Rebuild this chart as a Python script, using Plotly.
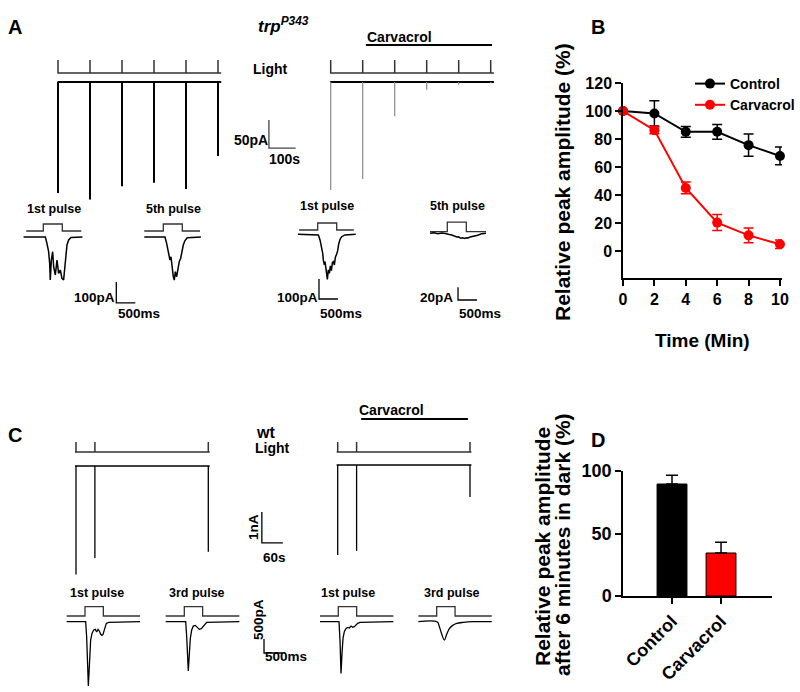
import plotly.graph_objects as go

# ---------------- data ----------------
# Panel B
B_time_min = [0, 2, 4, 6, 8, 10]
B_control = [100, 98.3, 85.2, 85.2, 75.7, 68]
B_control_err = [0, 9, 3.8, 5.3, 8, 6.3]
B_carvacrol = [100, 86.4, 45.2, 20.5, 11.4, 5]
B_carvacrol_err = [0, 2.5, 4.2, 5.7, 5.3, 3]

# Panel D
D_categories = ["Control", "Carvacrol"]
D_values = [89.6, 34.4]
D_err = [7, 8.5]

# Panel A long recordings (trp P343)
A_pulse_times_s = [0, 120, 240, 360, 480, 600]
A_ctrl_peaks_pA = [198, 210, 186, 180, 191, 132]
A_carv_peaks_pA = [193, 173, 61, 14, 5, 2]
A_record_span_s = [-2, 612]
A_carv_span_s = [132, 605]

# Panel A inset responses (ms, pA)
A_L1_t = [-520, 53, 96, 140, 167, 184, 211, 246, 272, 316, 360, 404, 447, 491, 535, 561, 588, 623, 667, 728, 1030]
A_L1_I = [0, 0, -30, -70, -125, -205, -110, -70, -141, -181, -110, -173, -157, -197, -205, -157, -94, -38, -14, -2, 0]
A_L5_t = [-500, 44, 88, 132, 175, 202, 228, 263, 289, 316, 351, 386, 421, 456, 491, 526, 570, 632, 990]
A_L5_I = [0, 0, -30, -70, -110, -94, -149, -189, -205, -165, -189, -141, -117, -102, -70, -38, -17, -4, 0]
A_R1_t = [-520, 18, 61, 105, 132, 148, 175, 193, 219, 237, 254, 280, 307, 333, 360, 386, 412, 439, 465, 500, 526, 553, 588, 632, 719, 1000]
A_R1_I = [0, -3, -28, -62, -95, -128, -153, -137, -178, -212, -225, -178, -195, -158, -182, -142, -137, -153, -115, -98, -82, -48, -25, -12, -3, 0]
A_R5_t = [-455, -350, -250, -150, -50, 0, 50, 100, 150, 200, 250, 300, 350, 400, 450, 500, 550, 600, 700, 800, 900, 1018]
A_R5_I = [0, 0.8, -0.6, 0.5, -0.4, -0.5, -1.8, -2.2, -3.6, -4.0, -5.9, -5.6, -7.8, -7.2, -8.3, -7.1, -7.4, -5.7, -4.9, -3.1, -0.8, 0]

# Panel C long recordings (wild type)
C_pulse_times_s = [0, 54, 378]
C_ctrl_peaks_nA = [3.5, 2.97, 2.77]
C_carv_peaks_nA = [2.9, 2.77, 1.03]
C_record_span_s = [-3, 382]
C_carv_span_s = [67, 372]

# Panel C inset responses (ms, pA)
C_L1_t = [-500, 18, 45, 64, 91, 109, 127, 154, 191, 236, 282, 318, 354, 391, 427, 463, 490, 518, 545, 581, 645, 1500]
C_L1_I = [0, 0, -536, -1250, -2298, -1845, -1131, -655, -417, -298, -274, -369, -274, -333, -452, -488, -452, -298, -155, -60, -24, 0]
C_L3_t = [-507, 38, 65, 83, 109, 136, 164, 201, 245, 300, 354, 409, 463, 509, 555, 610, 1500]
C_L3_I = [0, 0, -536, -1012, -1762, -1190, -595, -298, -155, -131, -214, -274, -250, -179, -83, -24, 0]
C_R1_t = [-499, 19, 46, 74, 101, 128, 164, 210, 255, 300, 346, 392, 437, 482, 528, 591, 1500]
C_R1_I = [0, 0, -655, -1845, -1131, -595, -357, -238, -202, -226, -155, -202, -179, -119, -60, -24, 0]
C_R3_t = [-500, 18, 73, 136, 209, 272, 345, 436, 545, 726, 1000, 1500]
C_R3_I = [0, -12, -179, -440, -655, -452, -250, -131, -60, -24, 0, 0]

LIGHT_PULSE_MS = 500

# ---------------- figure ----------------
W, H = 800, 692
FONT = "Liberation Sans, Arial, sans-serif"
fig = go.Figure()
axes_layout = {}
_n = [2]


def make_axes(box, origin, scale):
    """box: (left, top, right, bottom) px; origin: px of data (0,0); scale: px per unit."""
    _n[0] += 1
    n = _n[0]
    L, T, R, B = box
    ox, oy = origin
    sx, sy = scale
    axes_layout[f"xaxis{n}"] = dict(domain=[L / W, R / W], range=[(L - ox) / sx, (R - ox) / sx],
                                    visible=False, anchor=f"y{n}", fixedrange=True, automargin=False)
    axes_layout[f"yaxis{n}"] = dict(domain=[1 - B / H, 1 - T / H], range=[(oy - B) / sy, (oy - T) / sy],
                                    visible=False, anchor=f"x{n}", fixedrange=True, automargin=False)
    return (f"x{n}", f"y{n}", sy)


def line(ax, x, y, color="black", width=1.5, shape="linear"):
    fig.add_trace(go.Scatter(x=x, y=y, xaxis=ax[0], yaxis=ax[1], mode="lines",
                             line=dict(color=color, width=width, shape=shape),
                             showlegend=False, hoverinfo="skip", cliponaxis=False))


def text(px, py, s, size, angle=0, xanchor="center"):
    fig.add_annotation(x=px / W, y=1 - py / H, xref="paper", yref="paper", text=s, showarrow=False,
                       font=dict(size=size, family=FONT, color="black"), textangle=angle,
                       xanchor=xanchor, yanchor="middle")


def long_trace(ax, times, peaks, span, stim_off_px, stim_h_px, spike_color, spike_width, base_width):
    sy = ax[2]
    line(ax, span, [0, 0], "black", base_width)
    xs, ys = [], []
    for t, a in zip(times, peaks):
        xs += [t, t, None]
        ys += [0, -a, None]
    line(ax, xs, ys, spike_color, spike_width)
    s = stim_off_px / sy
    h = stim_h_px / sy
    lx, ly = [span[0]], [s]
    for t in times:
        lx += [t, t, t]
        ly += [s, s + h, s]
    lx.append(span[1])
    ly.append(s)
    line(ax, lx, ly, "#333333", 1.5)


def inset(ax, t, I, stim_span, stim_off_px, stim_h_px, width=1.5, shape="linear"):
    sy = ax[2]
    s = stim_off_px / sy
    h = stim_h_px / sy
    line(ax, [stim_span[0], 0, 0, LIGHT_PULSE_MS, LIGHT_PULSE_MS, stim_span[1]],
         [s, s, s + h, s + h, s, s], "#333333", 1.3)
    line(ax, t, I, "black", width, shape)


def scalebar(ax, x0, y0, dx, dy, color="#444444", width=1.3):
    line(ax, [x0, x0, x0 + dx], [y0, y0 - dy, y0 - dy], color, width)


# ---- Panel A long traces ----
sA = (32 / 120, 0.56)
axAL = make_axes((20, 40, 305, 215), (58, 82), sA)
long_trace(axAL, A_pulse_times_s, A_ctrl_peaks_pA, A_record_span_s, 9, 13, "black", 2, 2.2)
scalebar(axAL, 791, -68, 100, 50)

axAR = make_axes((305, 30, 505, 215), (330.7, 82), sA)
long_trace(axAR, A_pulse_times_s, A_carv_peaks_pA, A_record_span_s, 9, 13, "#8a8a8a", 1.2, 2)
line(axAR, A_carv_span_s, [37 / sA[1]] * 2, "black", 2)

# ---- Panel A insets ----
axA1 = make_axes((15, 212, 150, 320), (43.3, 237), (0.038, 0.21))
inset(axA1, A_L1_t, A_L1_I, [-450, 1000], 6, 7)
scalebar(axA1, 1921, -214, 500, 100, "black", 1.3)
axA5 = make_axes((130, 212, 215, 300), (163.3, 237), (0.038, 0.21))
inset(axA5, A_L5_t, A_L5_I, [-500, 966], 6, 7)
axA1r = make_axes((288, 212, 362, 320), (317.7, 234.3), (0.038, 0.2))
inset(axA1r, A_R1_t, A_R1_I, [-490, 950], 4.3, 7)
scalebar(axA1r, 34, -223.5, 500, 100, "black", 1.3)
axA5r = make_axes((420, 212, 500, 320), (447.3, 233.3), (0.038, 0.633))
inset(axA5r, A_R5_t, A_R5_I, [-455, 1018], 1.7, 9.4)
scalebar(axA5r, 282, -85.4, 500, 20, "black", 1.3)

# ---- Panel C long traces ----
sC = (0.35, 31)
axCL = make_axes((60, 430, 300, 590), (76, 466), sC)
long_trace(axCL, C_pulse_times_s, C_ctrl_peaks_nA, C_record_span_s, 14, 10, "black", 1.3, 1.6)
scalebar(axCL, 531, -1.48, 60, 1, "black", 1.3)
axCR = make_axes((310, 405, 500, 590), (337.7, 465), sC)
long_trace(axCR, C_pulse_times_s, C_carv_peaks_nA, C_record_span_s, 13, 10, "black", 1.3, 1.6)
line(axCR, C_carv_span_s, [46 / sC[1]] * 2, "black", 2)

# ---- Panel C insets ----
sCi = (0.0367, 0.028)
axC1 = make_axes((60, 600, 150, 692), (85, 621.7), sCi)
inset(axC1, C_L1_t, C_L1_I, [-500, 1500], 5.7, 9.3, 1.3)
axC3 = make_axes((155, 600, 300, 692), (184.3, 621.7), sCi)
inset(axC3, C_L3_t, C_L3_I, [-507, 1500], 5.7, 9.3, 1.3)
scalebar(axC3, 2172, -618, 500, 500, "black", 1.3)
axC1r = make_axes((310, 600, 400, 692), (338.3, 621.7), sCi)
inset(axC1r, C_R1_t, C_R1_I, [-499, 1500], 5.7, 9.3, 1.3)
axC3r = make_axes((410, 600, 500, 692), (436.7, 621.7), sCi)
inset(axC3r, C_R3_t, C_R3_I, [-500, 1500], 5.7, 9.3, 1.3, "spline")

# ---- Panel B ----
for name, vals, err, col in [("Control", B_control, B_control_err, "black"),
                             ("Carvacrol", B_carvacrol, B_carvacrol_err, "#ff0000")]:
    fig.add_trace(go.Scatter(x=B_time_min, y=vals, name=name, mode="lines+markers",
                             line=dict(color=col, width=2), marker=dict(size=10, color=col),
                             error_y=dict(type="data", array=err, color=col, thickness=1.5, width=5),
                             cliponaxis=False, xaxis="x", yaxis="y"))

# ---- Panel D ----
D_x = list(range(1, len(D_categories) + 1))
fig.add_trace(go.Bar(x=D_x, y=D_values, width=0.61, xaxis="x2", yaxis="y2", showlegend=False,
                     marker=dict(color=["black", "#ff0000"], line=dict(color="black", width=1)),
                     error_y=dict(type="data", array=D_err, arrayminus=[0, 0], symmetric=False,
                                  color="black", thickness=1.5, width=6),
                     cliponaxis=False))


def axis_style(size):
    return dict(showline=True, linecolor="black", linewidth=1.5, ticks="outside", ticklen=6,
                tickwidth=1.5, tickcolor="black", showgrid=False, zeroline=False,
                tickfont=dict(size=size, family=FONT, color="black", weight="bold"),
                fixedrange=True, automargin=False)


fig.update_layout(
    template="none",
    width=W, height=H, margin=dict(l=0, r=0, t=0, b=0, pad=0, autoexpand=False),
    paper_bgcolor="white", plot_bgcolor="rgba(0,0,0,0)",
    font=dict(family=FONT, color="black"),
    xaxis=dict(domain=[623 / W, 782 / W], range=[0, 10.13], tickvals=B_time_min, anchor="y", **axis_style(16)),
    yaxis=dict(domain=[1 - 278 / H, 1 - 83 / H], range=[-19, 120], tickvals=[0, 20, 40, 60, 80, 100, 120],
               anchor="x", **axis_style(16)),
    xaxis2=dict(domain=[623 / W, 772 / W], range=[0, 3.04], tickvals=D_x, ticktext=D_categories,
                tickangle=-45, anchor="y2", **axis_style(18)),
    yaxis2=dict(domain=[1 - 596 / H, 1 - 471 / H], range=[0, 100], tickvals=[0, 50, 100],
                anchor="x2", **axis_style(18)),
    legend=dict(x=690 / W, y=1 - 68 / H, xanchor="left", yanchor="top", bgcolor="rgba(0,0,0,0)",
                font=dict(size=14, family=FONT, color="black", weight="bold"), itemwidth=30,
                tracegroupgap=0),
    showlegend=True,
    **axes_layout,
)

# ---- text ----
text(15, 27, "<b>A</b>", 20)
text(598, 27, "<b>B</b>", 20)
text(15, 435, "<b>C</b>", 20)
text(598, 440, "<b>D</b>", 20)

text(283, 25, "<b><i>trp<sup>P343</sup></i></b>", 17)
text(399, 37, "<b>Carvacrol</b>", 14)
text(270, 69, "<b>Light</b>", 14)
text(251, 140, "<b>50pA</b>", 14)
text(284, 159, "<b>100s</b>", 14)

text(54, 209, "<b>1st pulse</b>", 12.5)
text(173, 209, "<b>5th pulse</b>", 12.5)
text(327, 206, "<b>1st pulse</b>", 12.5)
text(457, 206, "<b>5th pulse</b>", 12.5)
text(94, 297, "<b>100pA</b>", 13.5)
text(139, 313, "<b>500ms</b>", 13.5)
text(297, 297, "<b>100pA</b>", 13.5)
text(341, 313, "<b>500ms</b>", 13.5)
text(436, 297, "<b>20pA</b>", 13.5)
text(480, 313, "<b>500ms</b>", 13.5)

text(265, 432, "<b>wt</b>", 16)
text(272, 448, "<b>Light</b>", 14)
text(391, 410, "<b>Carvacrol</b>", 14)
text(253, 527, "<b>1nA</b>", 13.5, angle=-90)
text(274, 557, "<b>60s</b>", 13.5)
text(97, 593, "<b>1st pulse</b>", 12.5)
text(197, 593, "<b>3rd pulse</b>", 12.5)
text(348, 593, "<b>1st pulse</b>", 12.5)
text(452, 593, "<b>3rd pulse</b>", 12.5)
text(258, 620, "<b>500pA</b>", 13.5, angle=-90)
text(286, 656, "<b>500ms</b>", 13.5)

text(562, 182, "<b>Relative peak amplitude (%)</b>", 21, angle=-90)
text(702, 340, "<b>Time (Min)</b>", 19)
text(542, 547, "<b>Relative peak amplitude</b>", 21, angle=-90)
text(562, 545, "<b>after 6 minutes in dark (%)</b>", 21, angle=-90)

fig.write_html("out.html", config={"displayModeBar": False},
               post_script="document.body.style.margin='0px';document.body.style.overflow='hidden';")
